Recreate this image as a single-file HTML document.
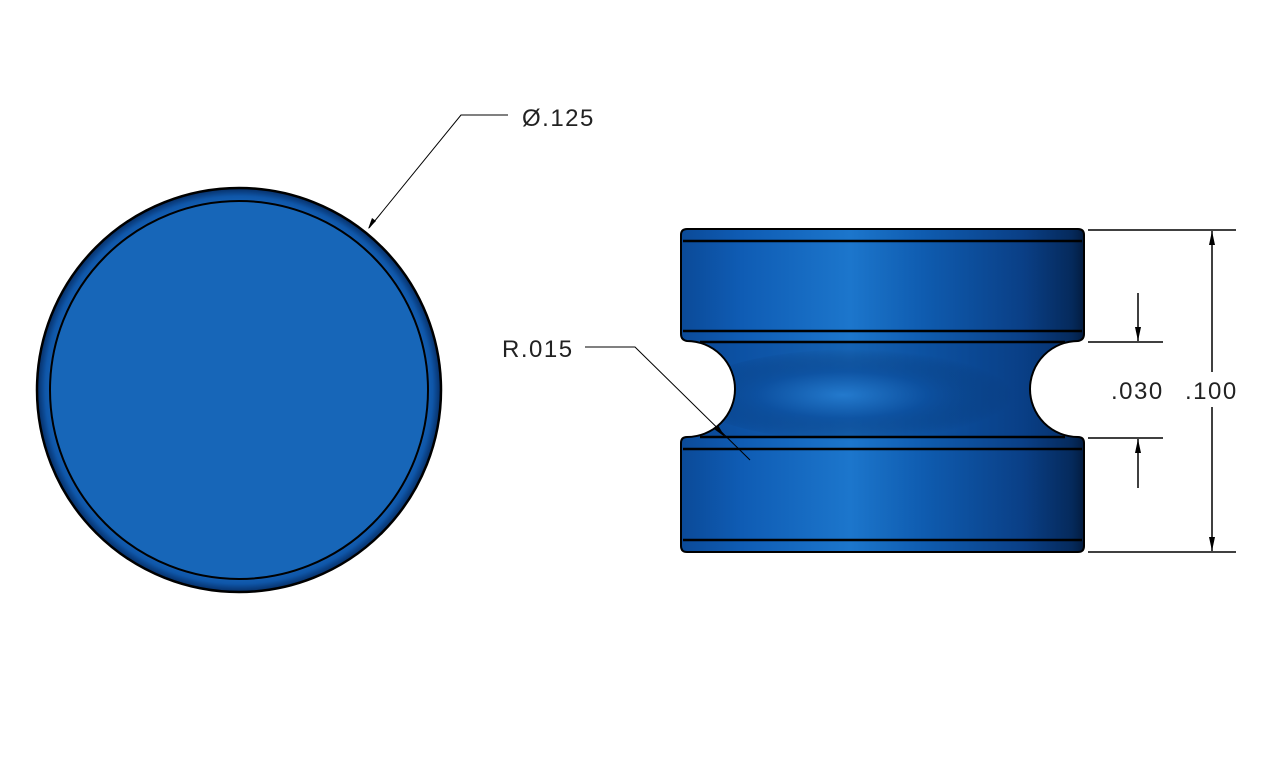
<!DOCTYPE html>
<html><head><meta charset="utf-8">
<style>html,body{margin:0;padding:0;background:#fff;}svg{display:block}</style>
</head><body>
<svg width="1280" height="768" viewBox="0 0 1280 768" xmlns="http://www.w3.org/2000/svg" font-family="Liberation Sans, sans-serif">
<defs>
<radialGradient id="rim" cx="0.5" cy="0.5" r="0.5">
<stop offset="0.9" stop-color="#1a6ac0"/>
<stop offset="0.96" stop-color="#0f56a8"/>
<stop offset="1" stop-color="#062e66"/>
</radialGradient>
<linearGradient id="cyl" x1="0" x2="1" y1="0" y2="0">
<stop offset="0" stop-color="#0b4a98"/>
<stop offset="0.15" stop-color="#0f5cb4"/>
<stop offset="0.42" stop-color="#1c76cc"/>
<stop offset="0.6" stop-color="#0f5cb0"/>
<stop offset="0.85" stop-color="#0a3f86"/>
<stop offset="0.97" stop-color="#052a5c"/>
<stop offset="1" stop-color="#031c40"/>
</linearGradient>
<radialGradient id="mid" cx="0.45" cy="0.5" r="0.5">
<stop offset="0" stop-color="#2a84d8"/>
<stop offset="0.5" stop-color="#0c4f9e"/>
<stop offset="1" stop-color="#072f64" stop-opacity="0"/>
</radialGradient>
<path id="body" d="M687,229 H1078 Q1084,229 1084,235 V334 Q1084,340 1078,341 A48,48 0 0 0 1078,437 Q1084,437 1084,443 V546 Q1084,552 1078,552 H687 Q681,552 681,546 V443 Q681,437 687,437 A48,48 0 0 0 687,341 Q681,340 681,334 V235 Q681,229 687,229 Z"/>
<clipPath id="bc"><use href="#body"/></clipPath>
</defs>
<!-- circle view -->
<circle cx="239" cy="390" r="202" fill="url(#rim)" stroke="#000" stroke-width="2.5"/>
<circle cx="239" cy="390" r="189" fill="#1766b8" stroke="#000" stroke-width="2"/>
<!-- leader dia -->
<polyline points="508,115 461,115 369,228" fill="none" stroke="#000" stroke-width="1"/>
<polygon points="368,229 372,218 376,221" fill="#000"/>
<text x="522" y="126" font-size="24" letter-spacing="1.5" fill="#222">Ø.125</text>
<!-- side view -->
<use href="#body" fill="url(#cyl)"/>
<g clip-path="url(#bc)">
<rect x="681" y="342" width="403" height="95" fill="#0a3f86" opacity="0.35"/>
<ellipse cx="860" cy="395" rx="170" ry="46" fill="url(#mid)" opacity="0.7"/>
</g>
<use href="#body" fill="none" stroke="#000" stroke-width="2"/>
<g stroke="#000" stroke-width="2.5">
<line x1="683" y1="241" x2="1082" y2="241"/>
<line x1="683" y1="331" x2="1082" y2="331"/>
<line x1="700" y1="342" x2="1065" y2="342"/>
<line x1="700" y1="437" x2="1065" y2="437"/>
<line x1="683" y1="449" x2="1082" y2="449"/>
<line x1="683" y1="540" x2="1082" y2="540"/>
</g>
<!-- R leader -->
<polyline points="585,347 635,347 750,460" fill="none" stroke="#000" stroke-width="1"/>
<polygon points="725,437 714,429 718,425" fill="#000"/>
<text x="502" y="357" font-size="24" letter-spacing="1.5" fill="#222">R.015</text>
<!-- dimensions -->
<g stroke="#000" stroke-width="1.5">
<line x1="1088" y1="230" x2="1236" y2="230"/>
<line x1="1088" y1="552" x2="1236" y2="552"/>
<line x1="1088" y1="342" x2="1163" y2="342"/>
<line x1="1088" y1="438" x2="1163" y2="438"/>
<line x1="1212" y1="231" x2="1212" y2="372"/>
<line x1="1212" y1="407" x2="1212" y2="551"/>
<line x1="1138" y1="293" x2="1138" y2="341"/>
<line x1="1138" y1="439" x2="1138" y2="488"/>
</g>
<g fill="#000">
<polygon points="1212,231 1209,245 1215,245"/>
<polygon points="1212,551 1209,537 1215,537"/>
<polygon points="1138,341 1135,327 1141,327"/>
<polygon points="1138,439 1135,453 1141,453"/>
</g>
<text x="1111" y="399" font-size="24" letter-spacing="1.5" fill="#222">.030</text>
<text x="1185" y="399" font-size="24" letter-spacing="1.5" fill="#222">.100</text>
</svg>
</body></html>
